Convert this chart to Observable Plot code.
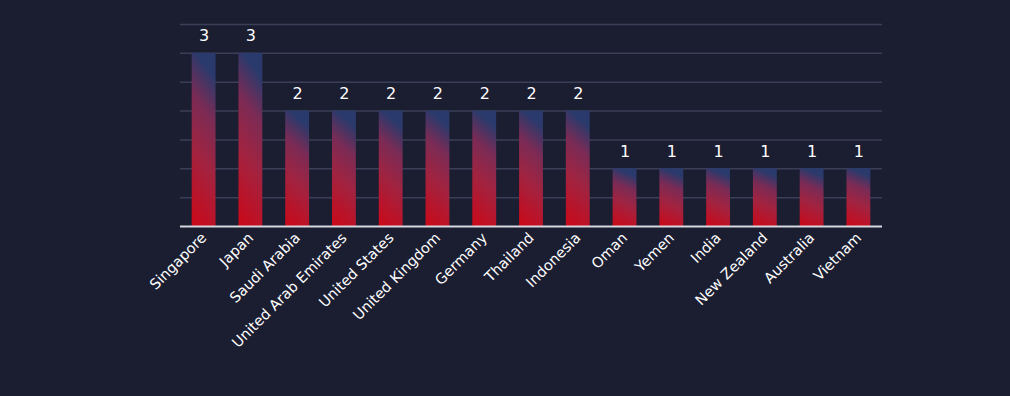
<!DOCTYPE html>
<html><head><meta charset="utf-8">
<script src="https://cdn.jsdelivr.net/npm/d3@7"></script>
<script src="https://cdn.jsdelivr.net/npm/@observablehq/plot@0.6"></script>
<style>
html,body{margin:0;padding:0;background:#1b1d31;}
#chart svg{display:block;}
</style></head>
<body><div id="chart"></div>
<script>
const countries = ["Singapore","Japan","Saudi Arabia","United Arab Emirates","United States","United Kingdom","Germany","Thailand","Indonesia","Oman","Yemen","India","New Zealand","Australia","Vietnam"];
const counts = [3,3,2,2,2,2,2,2,2,1,1,1,1,1,1];
const gridTicks = [0.5,1,1.5,2,2.5,3,3.5];

const data = countries.map((c,i)=>({country:c, count:counts[i]}));
const NS = "http://www.w3.org/2000/svg";
function defs(){
  const d = document.createElementNS(NS,"defs");
  const g = document.createElementNS(NS,"linearGradient");
  g.setAttribute("id","barGrad");
  g.setAttribute("x1","0"); g.setAttribute("y1","1");
  g.setAttribute("x2","0.18"); g.setAttribute("y2","0");
  [["0%","#cc0818"],["45%","#a12340"],["75%","#7a2b55"],["100%","#2a3a6c"]].forEach(([o,c])=>{
    const s=document.createElementNS(NS,"stop");
    s.setAttribute("offset",o); s.setAttribute("stop-color",c); g.appendChild(s);
  });
  d.appendChild(g);
  return d;
}
const chart = Plot.plot({
  width:1010, height:396,
  marginLeft:180, marginRight:128, marginTop:24, marginBottom:170,
  style:{background:"#1b1d31", color:"#ffffff", fontFamily:"'DejaVu Sans', sans-serif", fontSize:"14.5px"},
  x:{domain:countries, paddingInner:0.49, paddingOuter:0.25, round:false, label:null, tickRotate:-45, tickSize:0, tickPadding:9},
  y:{domain:[0,3.5], axis:null},
  marks:[
    defs,
    Plot.gridY(gridTicks,{stroke:"#3a3f57", strokeOpacity:1, strokeWidth:1.5}),
    Plot.barY(data,{x:"country", y:"count", fill:"url(#barGrad)"}),
    Plot.ruleY([0],{stroke:"#d8d8e0", strokeWidth:2}),
    Plot.text(data,{x:"country", y:"count", text:d=>String(d.count), dy:-17, fill:"#ffffff", fontSize:16})
  ]
});
document.getElementById("chart").appendChild(chart);
</script></body></html>
